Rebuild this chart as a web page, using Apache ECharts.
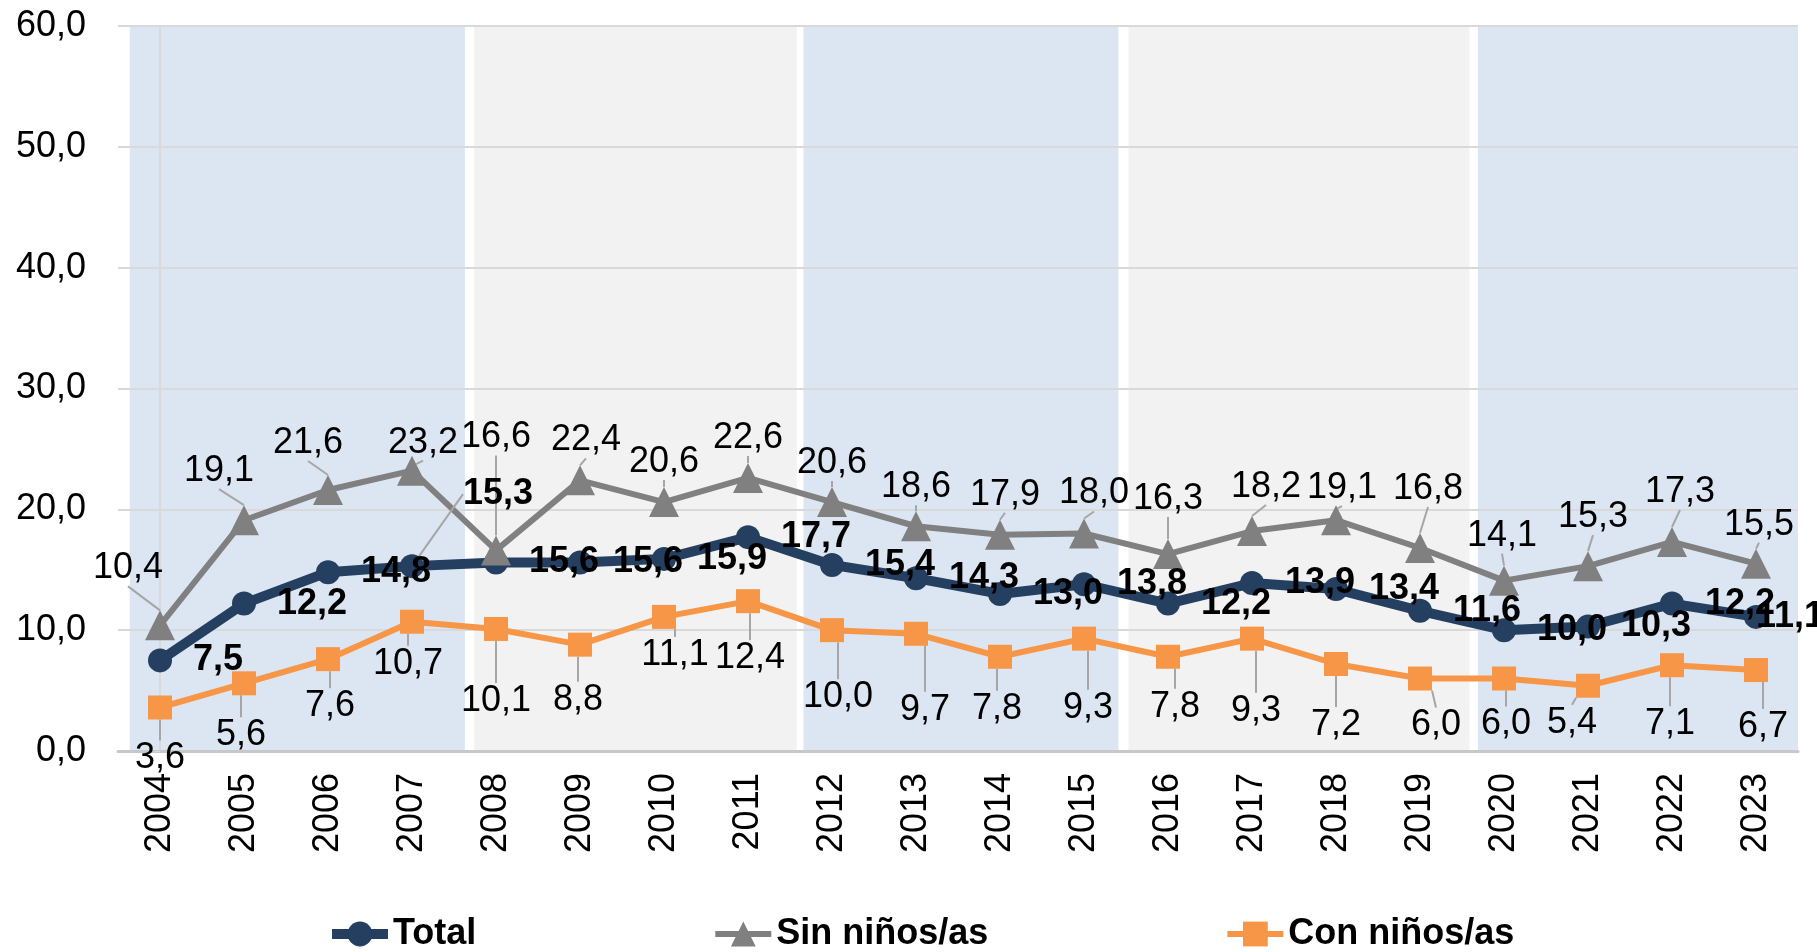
<!DOCTYPE html>
<html>
<head>
<meta charset="utf-8">
<script src="https://cdn.jsdelivr.net/npm/echarts@6/dist/echarts.min.js"></script>
<style>
  html, body { margin: 0; padding: 0; background: #fff; }
  #chart { width: 1817px; height: 952px; }
</style>
</head>
<body>
<div id="chart"></div>
<script>
// ──── data ────
const years = ['2004', '2005', '2006', '2007', '2008', '2009', '2010', '2011', '2012', '2013',
               '2014', '2015', '2016', '2017', '2018', '2019', '2020', '2021', '2022', '2023'];
const total    = [7.5, 12.2, 14.8, 15.3, 15.6, 15.6, 15.9, 17.7, 15.4, 14.3, 13.0, 13.8, 12.2, 13.9, 13.4, 11.6, 10.0, 10.3, 12.2, 11.1];
const sinNinos = [10.4, 19.1, 21.6, 23.2, 16.6, 22.4, 20.6, 22.6, 20.6, 18.6, 17.9, 18.0, 16.3, 18.2, 19.1, 16.8, 14.1, 15.3, 17.3, 15.5];
const conNinos = [3.6, 5.6, 7.6, 10.7, 10.1, 8.8, 11.1, 12.4, 10.0, 9.7, 7.8, 9.3, 7.8, 9.3, 7.2, 6.0, 6.0, 5.4, 7.1, 6.7];
const yMin = 0, yMax = 60, yStep = 10;

// ──── layout: background bands (category units) and label nudges (px) ────
const bandEdges = [[-0.36, 3.63], [3.74, 7.58], [7.66, 11.41], [11.53, 15.59], [15.69, 19.51]];
const bandColors = ['#DCE6F2', '#F2F2F2', '#DCE6F2', '#F2F2F2', '#DCE6F2'];
const sinShift = [[-32, -20], [-25, -12], [-20, -10], [11, 9], [0, -76], [6, -3], [0, -3], [0, -3], [0, -2], [0, -2],
                  [5, -3], [10, -3], [0, -18], [14, -7], [6, 5], [8, -22], [-2, -8], [5, -12], [8, -13], [3, -2]];
const conShift = [[0, 16], [-3, 17], [2, 12], [-4, 7], [0, 37], [-2, 20], [11, 3], [2, 22], [6, 32], [9, 41],
                  [-3, 17], [4, 34], [7, 15], [4, 37], [0, 26], [16, 12], [2, 11], [-16, 2], [-2, 24], [7, 22]];
const totalShift = { 3: [18, -72], 19: [-33, 0] };
const totalLeaderAt = 3;

const FONT = "'Liberation Sans', Arial, sans-serif";
const fmt = v => Number(v).toFixed(1).replace('.', ',');
const leader = { show: true, lineStyle: { color: '#A6A6A6', width: 2 } };

const chart = echarts.init(document.getElementById('chart'));
chart.setOption({
    backgroundColor: '#fff',
    animation: false,
    textStyle: { fontFamily: FONT },
    grid: { left: 118, right: 19, top: 26, bottom: 201 },
    xAxis: [{
        type: 'category',
        data: years,
        z: 2,
        axisLine: { lineStyle: { color: '#C8C8C8', width: 3 } },
        axisTick: { show: false },
        axisLabel: { rotate: 90, margin: 22, fontSize: 36, color: '#000', fontFamily: FONT },
    }, {
        type: 'value', min: -0.5, max: years.length - 0.5, show: false,
    }],
    yAxis: {
        type: 'value',
        min: yMin, max: yMax, interval: yStep,
        z: 2,
        axisLine: { show: true, lineStyle: { color: '#D9D9D9', width: 2 } },
        splitLine: { lineStyle: { color: '#D9D9D9', width: 2 } },
        axisLabel: { fontSize: 36, color: '#000', margin: 32, formatter: fmt, fontFamily: FONT },
    },
    legend: {
        data: ['Total', 'Sin niños/as', 'Con niños/as'],
        left: 322, top: 911,
        itemWidth: 56, itemHeight: 31, itemGap: 236,
        lineStyle: { width: 'inherit' },
        textStyle: { fontSize: 36, fontWeight: 'bold', color: '#000', fontFamily: FONT },
    },
    series: [{
        // fondo por periodos
        type: 'line',
        xAxisIndex: 1,
        data: [],
        clip: false,
        silent: true,
        markArea: {
            silent: true,
            data: bandEdges.map((b, i) => [
                { xAxis: b[0], yAxis: 60.3, itemStyle: { color: bandColors[i] } },
                { xAxis: b[1], yAxis: 0.07 },
            ]),
        },
    }, {
        name: 'Total',
        type: 'line',
        z: 3,
        data: total.map((v, i) => i === totalLeaderAt ? { value: v, labelLine: leader } : v),
        symbol: 'circle', symbolSize: 24,
        lineStyle: { color: '#243F60', width: 10 },
        itemStyle: { color: '#243F60' },
        label: {
            show: true, position: 'right', distance: 21,
            fontSize: 36, fontWeight: 'bold', color: '#000', fontFamily: FONT,
            formatter: p => fmt(p.value),
        },
        labelLine: { show: false },
        labelLayout: p => {
            const s = totalShift[p.dataIndex];
            return s ? { dx: s[0], dy: s[1] } : {};
        },
    }, {
        name: 'Sin niños/as',
        type: 'line',
        z: 3,
        data: sinNinos,
        symbol: 'triangle', symbolSize: 30,
        lineStyle: { color: '#808080', width: 6 },
        itemStyle: { color: '#808080' },
        label: {
            show: true, position: 'top', distance: 4,
            fontSize: 36, color: '#000', fontFamily: FONT,
            formatter: p => fmt(p.value),
        },
        labelLine: leader,
        labelLayout: p => ({ dx: sinShift[p.dataIndex][0], dy: sinShift[p.dataIndex][1] }),
    }, {
        name: 'Con niños/as',
        type: 'line',
        z: 3,
        data: conNinos,
        symbol: 'rect', symbolSize: 24,
        lineStyle: { color: '#F79646', width: 6 },
        itemStyle: { color: '#F79646' },
        label: {
            show: true, position: 'bottom', distance: 5,
            fontSize: 36, color: '#000', fontFamily: FONT,
            formatter: p => fmt(p.value),
        },
        labelLine: leader,
        labelLayout: p => ({ dx: conShift[p.dataIndex][0], dy: conShift[p.dataIndex][1] }),
    }],
});
</script>
</body>
</html>
